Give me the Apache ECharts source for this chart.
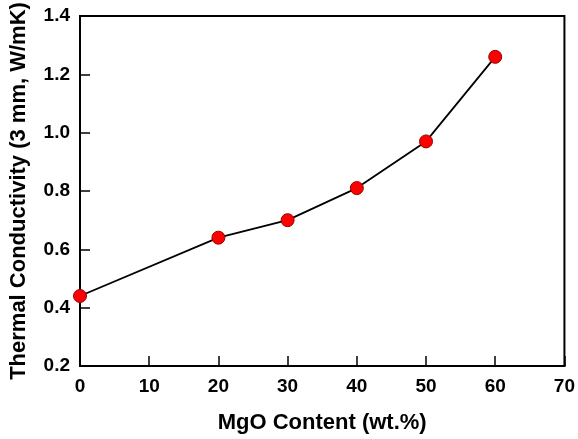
<!DOCTYPE html>
<html><head><meta charset="utf-8">
<script src="https://cdn.jsdelivr.net/npm/echarts@6/dist/echarts.min.js"></script>
<style>html,body{margin:0;padding:0;background:#fff}#c{width:578px;height:439px}</style>
</head><body><div id="c"></div>
<script>
const mgoContent = [0, 20, 30, 40, 50, 60];
const conductivity = [0.44, 0.64, 0.70, 0.81, 0.97, 1.26];
const xTitle = 'MgO Content (wt.%)';
const yTitle = 'Thermal Conductivity (3 mm, W/mK)';

const chart = echarts.init(document.getElementById('c'));
const font = '"Liberation Sans", Arial, sans-serif';
const axisCommon = {
  axisLine: {show: true, onZero: false, lineStyle: {color: '#000', width: 2}},
  axisTick: {show: true, inside: true, length: 10, lineStyle: {color: '#000', width: 1.5}},
  splitLine: {show: false},
  axisLabel: {color: '#000', fontFamily: font, fontWeight: 'bold', fontSize: 19},
  nameTextStyle: {color: '#000', fontFamily: font, fontWeight: 'bold', fontSize: 22}
};
chart.setOption({
  animation: false,
  grid: {left: 79, right: 11, top: 16, bottom: 71, show: true, borderColor: '#000', borderWidth: 2},
  xAxis: Object.assign({}, axisCommon, {
    type: 'value', min: 0, max: 70, interval: 10,
    name: xTitle, nameLocation: 'middle', nameGap: 46,
    axisLabel: Object.assign({}, axisCommon.axisLabel, {margin: 11})
  }),
  yAxis: Object.assign({}, axisCommon, {
    type: 'value', min: 0.2, max: 1.4, interval: 0.2,
    name: yTitle, nameLocation: 'middle', nameGap: 50,
    axisLabel: Object.assign({}, axisCommon.axisLabel, {margin: 10, formatter: v => v.toFixed(1)})
  }),
  series: [{
    type: 'line',
    data: mgoContent.map((x, i) => [x, conductivity[i]]),
    symbol: 'circle', symbolSize: 13,
    lineStyle: {color: '#000', width: 1.8},
    itemStyle: {color: '#f00', borderColor: '#900', borderWidth: 1}
  }]
});
</script></body></html>
